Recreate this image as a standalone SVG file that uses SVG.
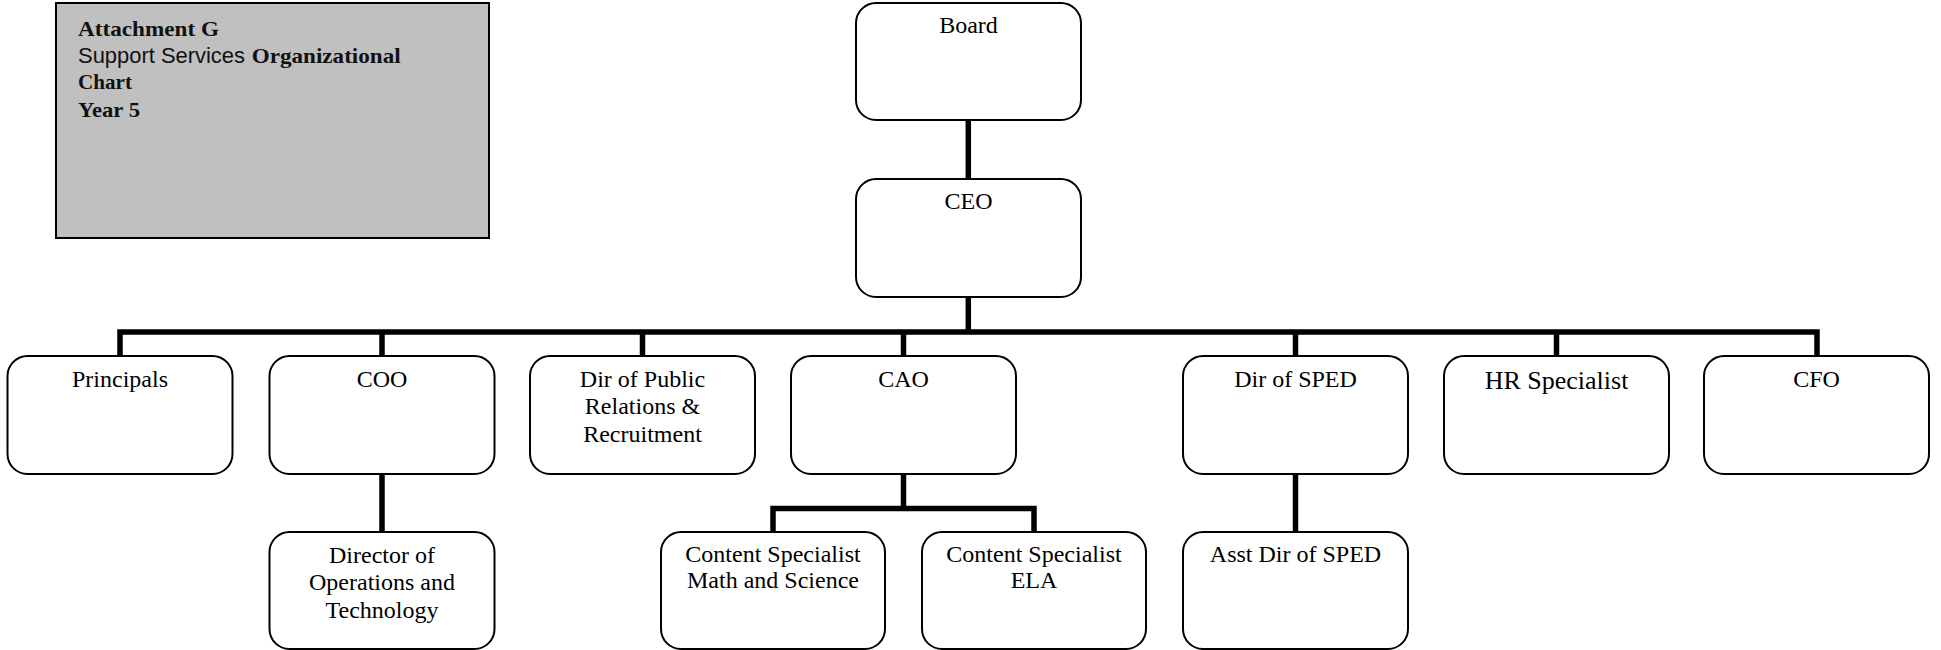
<svg xmlns="http://www.w3.org/2000/svg" width="1941" height="650" viewBox="0 0 1941 650">
<style>
.box{fill:#fff;stroke:#000;stroke-width:2}
.hdr{fill:#c0c0c0;stroke:#000;stroke-width:2}
.t{font-family:"Liberation Serif","Times New Roman",serif;font-size:24px;fill:#000;text-anchor:middle}
.hb{font-family:"Liberation Serif","Times New Roman",serif;font-size:21px;font-weight:bold;fill:#111}
.hs{font-family:"Liberation Sans",Arial,sans-serif;font-size:22px;fill:#111}
.conn{fill:none;stroke:#000;stroke-width:5.5;stroke-linejoin:miter;stroke-linecap:butt}
</style>
<rect width="1941" height="650" fill="#fff"/>
<g id="header">
<rect class="hdr" x="56" y="3" width="433" height="235"/>
<text class="hb" x="78" y="36" textLength="141" lengthAdjust="spacingAndGlyphs">Attachment G</text>
<text x="78" y="62.7"><tspan class="hs" textLength="167" lengthAdjust="spacingAndGlyphs">Support Services</tspan></text>
<text class="hb" x="251.7" y="62.7" textLength="149" lengthAdjust="spacingAndGlyphs">Organizational</text>
<text class="hb" x="78" y="89.3" textLength="54" lengthAdjust="spacingAndGlyphs">Chart</text>
<text class="hb" x="78" y="116.7" textLength="62" lengthAdjust="spacingAndGlyphs">Year 5</text>
</g>
<g id="connectors">
<path class="conn" d="M968.3 120 V179"/>
<path class="conn" d="M968.3 297 V332"/>
<path class="conn" d="M120 356 V332 H1817 V356"/>
<path class="conn" d="M382 332 V356"/>
<path class="conn" d="M642.5 332 V356"/>
<path class="conn" d="M903.5 332 V356"/>
<path class="conn" d="M1295.5 332 V356"/>
<path class="conn" d="M1556.5 332 V356"/>
<path class="conn" d="M382 474 V532"/>
<path class="conn" d="M903.5 474 V508.5"/>
<path class="conn" d="M773 532 V508.5 H1034 V532"/>
<path class="conn" d="M1295.5 474 V532"/>
</g>
<g id="board"><rect class="box" x="856" y="3" width="225" height="117" rx="20"/><text class="t" x="968.5" y="32.7">Board</text></g>
<g id="ceo"><rect class="box" x="856" y="179" width="225" height="118" rx="20"/><text class="t" x="968.5" y="209.3">CEO</text></g>
<g id="principals"><rect class="box" x="7.5" y="356" width="225" height="118" rx="20"/><text class="t" x="120" y="386.7">Principals</text></g>
<g id="coo"><rect class="box" x="269.5" y="356" width="225" height="118" rx="20"/><text class="t" x="382" y="386.7">COO</text></g>
<g id="dir-pr"><rect class="box" x="530" y="356" width="225" height="118" rx="20"/><text class="t" x="642.5" y="386.7">Dir of Public</text><text class="t" x="642.5" y="414.3">Relations &amp;</text><text class="t" x="642.5" y="442.3">Recruitment</text></g>
<g id="cao"><rect class="box" x="791" y="356" width="225" height="118" rx="20"/><text class="t" x="903.5" y="386.7">CAO</text></g>
<g id="dir-sped"><rect class="box" x="1183" y="356" width="225" height="118" rx="20"/><text class="t" x="1295.5" y="386.7">Dir of SPED</text></g>
<g id="hr"><rect class="box" x="1444" y="356" width="225" height="118" rx="20"/><text class="t" x="1556.5" y="389" style="font-size:26px">HR Specialist</text></g>
<g id="cfo"><rect class="box" x="1704" y="356" width="225" height="118" rx="20"/><text class="t" x="1816.5" y="386.7">CFO</text></g>
<g id="dir-ops"><rect class="box" x="269.5" y="532" width="225" height="117" rx="20"/><text class="t" x="382" y="562.7">Director of</text><text class="t" x="382" y="590.3">Operations and</text><text class="t" x="382" y="617.9">Technology</text></g>
<g id="cs-math"><rect class="box" x="661" y="532" width="224" height="117" rx="20"/><text class="t" x="773" y="561.7">Content Specialist</text><text class="t" x="773" y="588.3">Math and Science</text></g>
<g id="cs-ela"><rect class="box" x="922" y="532" width="224" height="117" rx="20"/><text class="t" x="1034" y="561.7">Content Specialist</text><text class="t" x="1034" y="588.3">ELA</text></g>
<g id="asst-sped"><rect class="box" x="1183" y="532" width="225" height="117" rx="20"/><text class="t" x="1295.5" y="561.7">Asst Dir of SPED</text></g>
</svg>
